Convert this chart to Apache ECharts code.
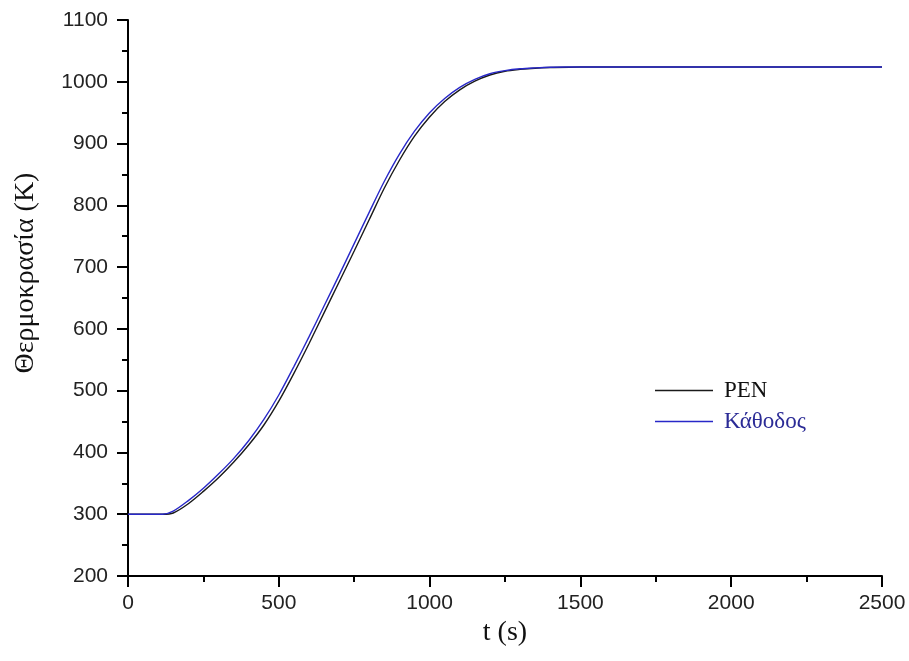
<!DOCTYPE html>
<html>
<head>
<meta charset="utf-8">
<script src="https://cdn.jsdelivr.net/npm/echarts@6/dist/echarts.min.js"></script>
<style>html,body{margin:0;padding:0;background:#fff}#c{width:909px;height:661px}</style>
</head>
<body>
<div id="c"></div>
<script>
// time (s)
const times = [0, 50, 100, 115, 150, 200, 250, 300, 350, 400, 450, 500, 550, 600, 650, 700, 750, 800, 850, 900, 950, 1000, 1050, 1100, 1150, 1200, 1250, 1300, 1350, 1400, 1500, 1600, 2000, 2500];
// Κάθοδος temperature (K)
const kathodos = [300, 300, 300, 300, 305, 322, 342, 365, 390, 419, 453, 493, 539, 587, 637, 687, 738, 789, 839, 883, 920, 950, 973, 991, 1004, 1013, 1018, 1021, 1022.5, 1023.5, 1024, 1024, 1024, 1024];
// PEN temperature (K)
const pen = [300, 300, 300, 300, 302, 317, 337, 359, 384, 412, 444, 483, 528, 576, 626, 676, 726, 777, 828, 873, 912, 943, 968, 987, 1001, 1011, 1017, 1020, 1022, 1023, 1024, 1024, 1024, 1024];
const xTicks = [0, 500, 1000, 1500, 2000, 2500];
const yTicks = [200, 300, 400, 500, 600, 700, 800, 900, 1000, 1100];
const seriesNames = ['PEN', 'Κάθοδος'];

const chart = echarts.init(document.getElementById('c'), null, {renderer: 'canvas'});
const serif = 'Liberation Serif, Times New Roman, serif';
const axisCommon = {
  axisLine: {show: true, onZero: false, lineStyle: {color: '#000', width: 2}},
  axisTick: {show: true, inside: false, length: 11, lineStyle: {color: '#000', width: 2}},
  minorTick: {show: true, splitNumber: 2, length: 6, lineStyle: {color: '#000', width: 2}},
  splitLine: {show: false},
  axisLabel: {color: '#222', fontFamily: 'Liberation Sans, Arial, sans-serif', fontSize: 21, formatter: v => String(v)}
};
chart.setOption({
  backgroundColor: '#fff',
  animation: false,
  grid: {left: 128, right: 27, top: 20, bottom: 85, containLabel: false},
  legend: {
    orient: 'vertical',
    left: 650,
    top: 374,
    itemWidth: 58,
    itemHeight: 10,
    itemGap: 8,
    icon: 'path://M0,4.2 L58,4.2 L58,5.8 L0,5.8 Z',
    textStyle: {fontFamily: serif, fontSize: 23, padding: [0, 0, 0, 6]},
    data: [
      {name: seriesNames[0], textStyle: {color: '#111'}, itemStyle: {color: '#1a1a1a'}},
      {name: seriesNames[1], textStyle: {color: '#2b2b96'}, itemStyle: {color: '#2828c8'}}
    ]
  },
  xAxis: Object.assign({}, axisCommon, {
    type: 'value', min: xTicks[0], max: xTicks[xTicks.length - 1], interval: 500,
    name: 't (s)', nameLocation: 'middle', nameGap: 42,
    nameTextStyle: {fontFamily: serif, fontSize: 28, color: '#111'},
    axisLabel: Object.assign({}, axisCommon.axisLabel, {margin: 17})
  }),
  yAxis: Object.assign({}, axisCommon, {
    type: 'value', min: yTicks[0], max: yTicks[yTicks.length - 1], interval: 100,
    name: 'Θερμοκρασία (K)', nameLocation: 'middle', nameGap: 88, nameRotate: 90,
    nameTextStyle: {fontFamily: serif, fontSize: 28, color: '#111', padding: [0, 0, 0, 50]},
    axisLabel: Object.assign({}, axisCommon.axisLabel, {margin: 20})
  }),
  series: [
    {
      name: seriesNames[0], type: 'line', smooth: 0.3, showSymbol: false, symbol: 'none',
      data: times.map((t, i) => [t, pen[i]]),
      lineStyle: {color: '#1a1a1a', width: 1.4}, itemStyle: {color: '#1a1a1a'}, z: 2
    },
    {
      name: seriesNames[1], type: 'line', smooth: 0.3, showSymbol: false, symbol: 'none',
      data: times.map((t, i) => [t, kathodos[i]]),
      lineStyle: {color: '#2828c8', width: 1.4}, itemStyle: {color: '#2828c8'}, z: 3
    }
  ]
});
</script>
</body>
</html>
